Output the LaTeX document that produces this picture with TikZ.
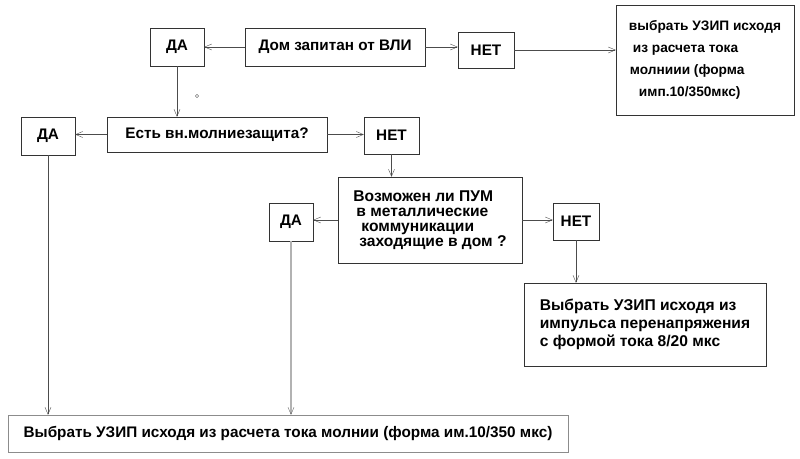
\documentclass[tikz,border=0pt]{standalone}
\usepackage{fontspec}
\setmainfont{Liberation Sans}
\usetikzlibrary{arrows.meta}

\begin{document}
\begin{tikzpicture}[x=1pt, y=-1pt,
		kasten/.style={draw=black!80, thin, inner sep=0pt, font=\bfseries\fontsize{15.3}{17}\selectfont},
		pfeil/.style={draw=black!70, thin, -{Straight Barb[length=7pt, width=6pt]}},
		grau/.style={draw=black!30, line width=1.2pt, -{Straight Barb[length=7pt, width=6pt, line width=0.4pt, color=black!60]}}]
		
		\useasboundingbox (0,0) rectangle (800,458);
		
		%Obere Reihe
		\node [kasten, minimum width=180pt, minimum height=38pt] (vli) at (335,47) {Дом запитан от ВЛИ};
		\node [kasten, minimum width=54pt, minimum height=38pt] (da1) at (177,47) {ДА};
		\node [kasten, minimum width=56pt, minimum height=36pt] (net1) at (486,50) {НЕТ};
		\node [kasten, minimum width=178pt, minimum height=110pt, align=left, font=\bfseries\fontsize{13.7}{22}\selectfont] (res1) at (705,60)
			{выбрать УЗИП исходя\\ \hspace*{4pt}из расчета тока\\ \hspace*{1pt}молниии (форма\\ \hspace*{10pt}имп.10/350мкс)};
		
		%Mitte
		\node [kasten, minimum width=220pt, minimum height=35pt] (lpz) at (217,134.5) {Есть вн.молниезащита?};
		\node [kasten, minimum width=54pt, minimum height=38pt] (da2) at (48,136) {ДА};
		\node [kasten, minimum width=55pt, minimum height=37pt] (net2) at (391.5,135.5) {НЕТ};
		
		\node [kasten, minimum width=184pt, minimum height=86pt, align=left, font=\bfseries\fontsize{15.6}{15}\selectfont] (pum) at (430,220)
			{Возможен ли ПУМ\\ \hspace*{3pt}в металлические\\ \hspace*{8pt}коммуникации\\ \hspace*{6pt}заходящие в дом ?};
		\node [kasten, minimum width=44pt, minimum height=38pt] (da3) at (291,222) {ДА};
		\node [kasten, minimum width=46pt, minimum height=37pt] (net3) at (576,221.5) {НЕТ};
		\node [kasten, minimum width=242pt, minimum height=83pt, align=left, font=\bfseries\fontsize{15.6}{18}\selectfont] (res2) at (645,324.5)
			{Выбрать УЗИП исходя из\\импульса перенапряжения\\с формой тока 8/20 мкс};
		
		%Unten
		\node [kasten, draw=black!45, minimum width=560pt, minimum height=37pt] (res3) at (288,433.5)
			{Выбрать УЗИП исходя из расчета тока молнии (форма им.10/350 мкс)};
		
		%Pfeile
		\draw [pfeil] (vli.west) -- (da1.east);
		\draw [pfeil] (vli.east) -- (vli.east -| net1.west);
		\draw [pfeil] (net1.east) -- (net1.east -| res1.west);
		\draw [pfeil] (da1.south) -- (da1.south |- lpz.north);
		\draw [pfeil] (lpz.west) -- (lpz.west -| da2.east);
		\draw [pfeil] (lpz.east) -- (lpz.east -| net2.west);
		\draw [pfeil] (net2.south) -- (net2.south |- pum.north);
		\draw [pfeil] (pum.west) -- (pum.west -| da3.east);
		\draw [pfeil] (pum.east) -- (pum.east -| net3.west);
		\draw [pfeil] (net3.south) -- (net3.south |- res2.north);
		\draw [pfeil] (da2.south) -- (da2.south |- res3.north);
		\draw [grau] (da3.south) -- (da3.south |- res3.north);
		
		\draw [black!70, thin] (197,96) circle (1.6pt);
		
	\end{tikzpicture}
\end{document}
